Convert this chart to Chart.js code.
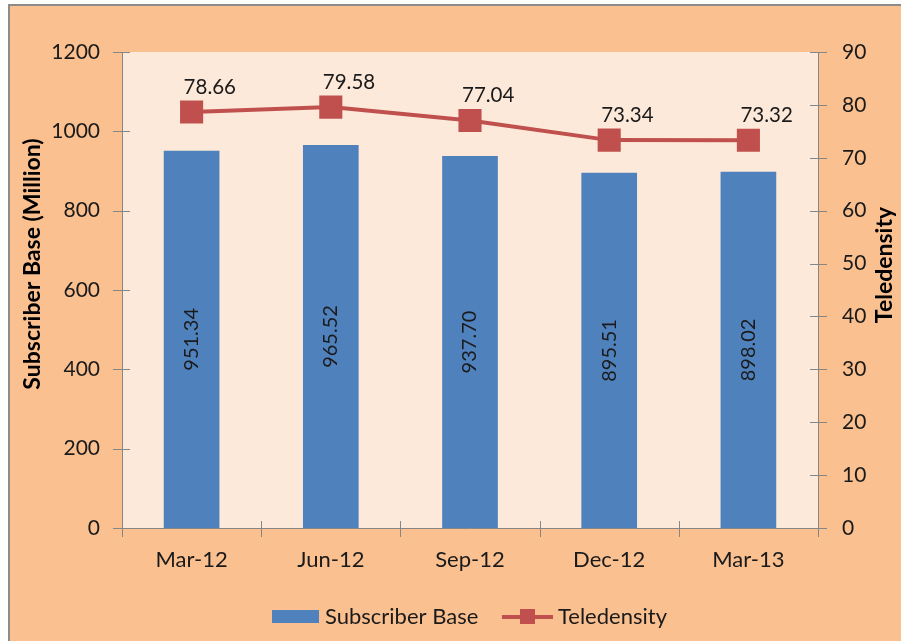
<!DOCTYPE html>
<html>
<head>
<meta charset="utf-8">
<script src="https://cdn.jsdelivr.net/npm/chart.js@4.4.0/dist/chart.umd.min.js"></script>
<style>
    html, body { margin: 0; padding: 0; background: #fff; }
    #wrap { width: 901px; height: 641px; }
</style>
</head>
<body>
<div id="wrap"><canvas id="chart" width="901" height="641"></canvas></div>
<script>
// Chart data
const quarters = ['Mar-12', 'Jun-12', 'Sep-12', 'Dec-12', 'Mar-13'];
const subscriberBase = [951.34, 965.52, 937.70, 895.51, 898.02];
const teledensity = [78.66, 79.58, 77.04, 73.34, 73.32];
const leftTicks = [0, 200, 400, 600, 800, 1000, 1200];
const rightTicks = [0, 10, 20, 30, 40, 50, 60, 70, 80, 90];

const BLUE = '#4F81BD';
const RED = '#C0504D';
const AXIS = '#868686';
const FONT = 'Lato, "Open Sans", sans-serif';
const TEXT = '#1a1a1a';

// background, custom ticks, titles, labels and legend
const decorPlugin = {
    id: 'decor',
    beforeDraw(chart) {
        const { ctx, chartArea: a } = chart;
        ctx.save();
        ctx.fillStyle = '#ffffff';
        ctx.fillRect(0, 0, chart.width, chart.height);
        ctx.fillStyle = '#FAC090';
        ctx.fillRect(10, 6, chart.width, chart.height);
        ctx.strokeStyle = '#8c8c8c';
        ctx.lineWidth = 2;
        ctx.strokeRect(9, 5, chart.width + 20, chart.height + 20);
        ctx.fillStyle = '#FDE9D9';
        ctx.fillRect(a.left, a.top, a.right - a.left, a.bottom - a.top);
        ctx.restore();
    },
    afterDraw(chart) {
        const { ctx, chartArea: a } = chart;
        const y = chart.scales.y;
        const y1 = chart.scales.y1;
        ctx.save();

        // cross tick marks
        ctx.strokeStyle = AXIS;
        ctx.lineWidth = 1;
        ctx.beginPath();
        y.ticks.forEach((t, i) => {
            const py = Math.round(y.getPixelForTick(i)) + 0.5;
            ctx.moveTo(a.left - 9, py);
            ctx.lineTo(a.left + 8, py);
        });
        y1.ticks.forEach((t, i) => {
            const py = Math.round(y1.getPixelForTick(i)) + 0.5;
            ctx.moveTo(a.right - 8, py);
            ctx.lineTo(a.right + 9, py);
        });
        const step = (a.right - a.left) / quarters.length;
        for (let i = 0; i <= quarters.length; i++) {
            const px = Math.round(a.left + i * step) + 0.5;
            ctx.moveTo(px, a.bottom - 7);
            ctx.lineTo(px, a.bottom + 9);
        }
        ctx.stroke();

        // axis titles (both read bottom to top)
        ctx.fillStyle = '#000';
        ctx.font = 'bold 23px ' + FONT;
        ctx.textAlign = 'center';
        ctx.textBaseline = 'middle';
        ctx.save();
        ctx.translate(33, 264);
        ctx.rotate(-Math.PI / 2);
        ctx.fillText('Subscriber Base (Million)', 0, 0);
        ctx.restore();
        ctx.save();
        ctx.translate(885, 265);
        ctx.rotate(-Math.PI / 2);
        ctx.fillText('Teledensity', 0, 0);
        ctx.restore();

        // bar value labels
        ctx.fillStyle = TEXT;
        ctx.font = '20px ' + FONT;
        chart.getDatasetMeta(0).data.forEach((bar, i) => {
            ctx.save();
            ctx.translate(bar.x, (bar.y + bar.base) / 2);
            ctx.rotate(-Math.PI / 2);
            ctx.fillText(subscriberBase[i].toFixed(2), 0, 0);
            ctx.restore();
        });

        // line value labels
        ctx.textAlign = 'left';
        ctx.font = '20.5px ' + FONT;
        chart.getDatasetMeta(1).data.forEach((pt, i) => {
            ctx.fillText(teledensity[i].toFixed(2), pt.x - 8, pt.y - 25);
        });

        // legend
        const ly = 617;
        ctx.font = '22px ' + FONT;
        ctx.fillStyle = BLUE;
        ctx.fillRect(272, ly - 7, 47, 13);
        ctx.fillStyle = TEXT;
        ctx.fillText('Subscriber Base', 325, ly);
        ctx.strokeStyle = RED;
        ctx.lineWidth = 4;
        ctx.beginPath();
        ctx.moveTo(502, ly);
        ctx.lineTo(553, ly);
        ctx.stroke();
        ctx.fillStyle = RED;
        ctx.fillRect(520, ly - 8, 15, 15);
        ctx.fillStyle = TEXT;
        ctx.fillText('Teledensity', 558, ly);

        ctx.restore();
    }
};

new Chart(document.getElementById('chart'), {
    type: 'bar',
    data: {
        labels: quarters,
        datasets: [
            {
                label: 'Subscriber Base',
                data: subscriberBase,
                backgroundColor: BLUE,
                yAxisID: 'y',
                order: 2,
                categoryPercentage: 1,
                barPercentage: 0.4
            },
            {
                type: 'line',
                label: 'Teledensity',
                data: teledensity,
                borderColor: RED,
                backgroundColor: RED,
                borderWidth: 4,
                pointStyle: 'rect',
                pointRadius: 13.5,
                pointHoverRadius: 13.5,
                yAxisID: 'y1',
                order: 1
            }
        ]
    },
    options: {
        responsive: false,
        animation: false,
        layout: { padding: { top: 52, left: 0, right: 0, bottom: 0 } },
        plugins: {
            legend: { display: false },
            tooltip: { enabled: false }
        },
        scales: {
            x: {
                offset: true,
                grid: { display: false, drawTicks: false },
                border: { color: AXIS, width: 1 },
                ticks: { color: TEXT, font: { family: FONT, size: 22 }, padding: 19 },
                afterFit: s => { s.height = 113; }
            },
            y: {
                position: 'left',
                min: 0,
                max: 1200,
                afterBuildTicks: s => { s.ticks = leftTicks.map(v => ({ value: v })); },
                grid: { display: false, drawTicks: false },
                border: { color: AXIS, width: 1 },
                ticks: {
                    color: TEXT, font: { family: FONT, size: 21 }, padding: 22,
                    callback: v => String(v)
                },
                afterFit: s => { s.width = 122; }
            },
            y1: {
                position: 'right',
                min: 0,
                max: 90,
                afterBuildTicks: s => { s.ticks = rightTicks.map(v => ({ value: v })); },
                grid: { display: false, drawTicks: false },
                border: { color: AXIS, width: 1 },
                ticks: {
                    color: TEXT, font: { family: FONT, size: 21 }, padding: 24,
                    callback: v => String(v)
                },
                afterFit: s => { s.width = 83; }
            }
        }
    },
    plugins: [decorPlugin]
});
</script>
</body>
</html>
